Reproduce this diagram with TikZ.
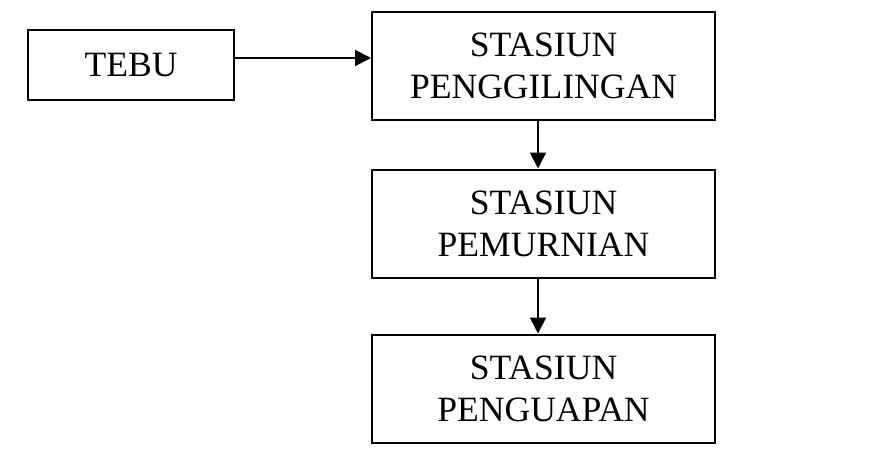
\documentclass[tikz,border=0pt]{standalone}
\usepackage{fontspec}
\setmainfont{Liberation Serif}
\usetikzlibrary{arrows.meta}
\begin{document}
\begin{tikzpicture}[x=0.5pt,y=-0.5pt,>={Triangle[width=8pt,length=8pt]},
    kotak/.style={draw,line width=1pt,align=center,inner sep=0pt,
      font=\fontsize{17.8}{21}\selectfont},
    panah/.style={->,line width=1pt}]
    \useasboundingbox (0,0) rectangle (871,462);
    \node[kotak,minimum width=103pt,minimum height=35pt](tebu) at (131,65){TEBU};
    \node[kotak,minimum width=171.5pt,minimum height=54pt](giling) at (543.5,66){STASIUN\\PENGGILINGAN};
    \node[kotak,minimum width=171.5pt,minimum height=54pt](murni) at (543.5,223.5){STASIUN\\PEMURNIAN};
    \node[kotak,minimum width=171.5pt,minimum height=54pt](uap) at (543.5,388.5){STASIUN\\PENGUAPAN};
    
    \draw[panah]([yshift=3.5pt]tebu.east)--([yshift=3.5pt]tebu.east -| giling.west);
    \draw[panah]([xshift=-2.75pt]giling.south)--([xshift=-2.75pt]murni.north);
    \draw[panah]([xshift=-2.75pt]murni.south)--([xshift=-2.75pt]uap.north);
\end{tikzpicture}
\end{document}
